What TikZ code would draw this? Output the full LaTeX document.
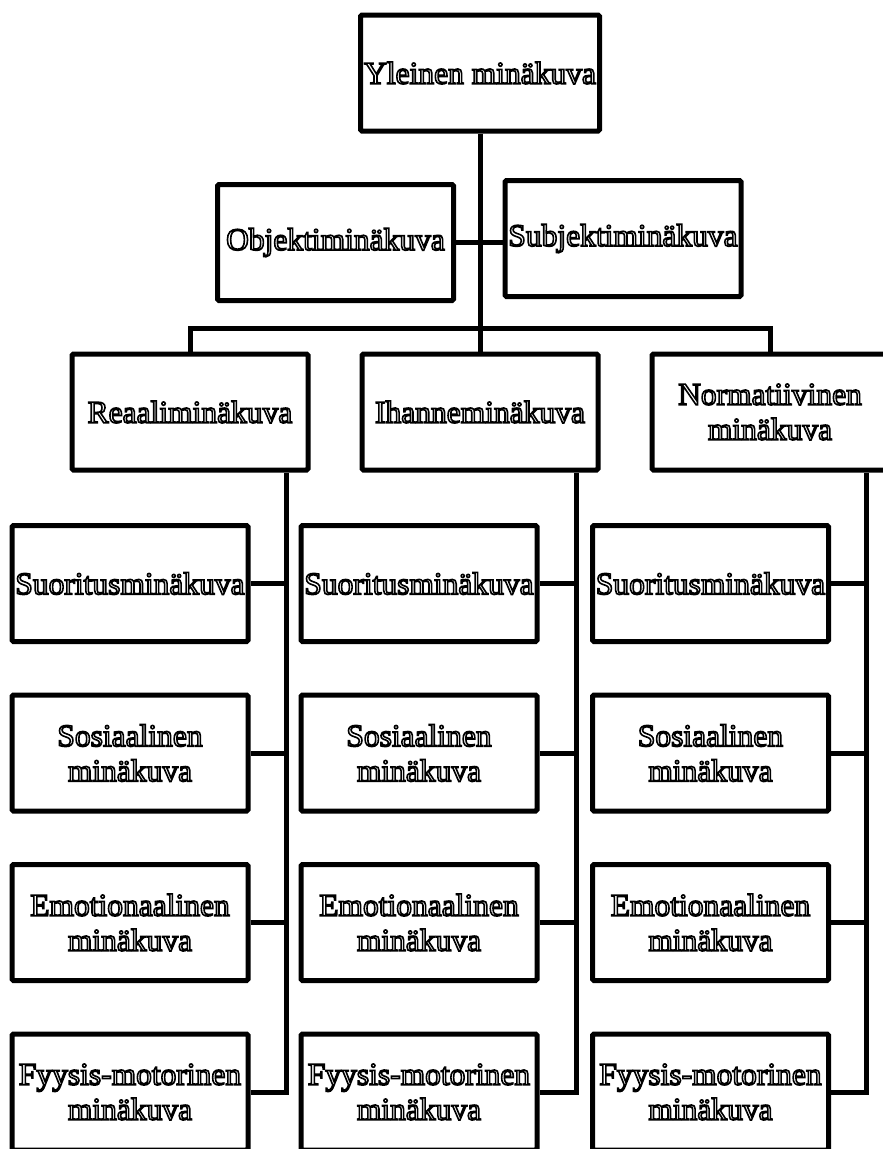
\documentclass[tikz,border=0pt]{standalone}
\usepackage{fontspec}
\setmainfont{Liberation Serif}
\tikzset{
  box/.style = {draw, rounded corners=1.5pt, align=center, inner sep=0pt,
    minimum width=236pt, minimum height=116pt,
    font=\fontsize{31.5}{35}\selectfont,
    execute at begin node={\special{pdf:literal direct 1 Tr 1.6 w}},
    execute at end node={\special{pdf:literal direct 0 Tr}}}
}

\begin{document}
\begin{tikzpicture}[x=1pt, y=-1pt, line width=5pt]
    \useasboundingbox (0,0) rectangle (883,1149);
    % top levels
    \node [box, minimum width=239pt] (yleinen) at (480,73) {Yleinen minäkuva};
    \node [box] (objekti) at (335.5,242.5) {Objektiminäkuva};
    \node [box] (subjekti) at (623,238.5) {Subjektiminäkuva};
    \node [box] (reaali) at (190,412) {Reaaliminäkuva};
    \node [box] (ihanne) at (480,412) {Ihanneminäkuva};
    \node [box] (norm) at (770,412) {Normatiivinen\\minäkuva};
    % leaves
    \node [box] (suoR) at (130,583.5) {Suoritusminäkuva};
    \node [box] (sosR) at (130,753) {Sosiaalinen\\minäkuva};
    \node [box] (emoR) at (130,922.5) {Emotionaalinen\\minäkuva};
    \node [box] (fyyR) at (130,1092) {Fyysis-motorinen\\minäkuva};
    \node [box] (suoI) at (419,583.5) {Suoritusminäkuva};
    \node [box] (sosI) at (419,753) {Sosiaalinen\\minäkuva};
    \node [box] (emoI) at (419,922.5) {Emotionaalinen\\minäkuva};
    \node [box] (fyyI) at (419,1092) {Fyysis-motorinen\\minäkuva};
    \node [box] (suoN) at (710.5,583.5) {Suoritusminäkuva};
    \node [box] (sosN) at (710.5,753) {Sosiaalinen\\minäkuva};
    \node [box] (emoN) at (710.5,922.5) {Emotionaalinen\\minäkuva};
    \node [box] (fyyN) at (710.5,1092) {Fyysis-motorinen\\minäkuva};
    \coordinate (bar) at (480,328);
    \coordinate (spineR) at ([xshift=-24pt]reaali.south east);
    \coordinate (spineI) at ([xshift=-24pt]ihanne.south east);
    \coordinate (spineN) at ([xshift=-24pt]norm.south east);
    % connectors
    \draw (yleinen.south) -- (ihanne.north);
    \draw (objekti.east) -- (objekti.east -| subjekti.west);
    \draw (reaali.north) |- (bar) -| (norm.north);
    \draw (spineR) |- (fyyR.east)
        (suoR.east) -- (suoR.east -| spineR)
        (sosR.east) -- (sosR.east -| spineR)
        (emoR.east) -- (emoR.east -| spineR);
    \draw (spineI) |- (fyyI.east)
        (suoI.east) -- (suoI.east -| spineI)
        (sosI.east) -- (sosI.east -| spineI)
        (emoI.east) -- (emoI.east -| spineI);
    \draw (spineN) |- (fyyN.east)
        (suoN.east) -- (suoN.east -| spineN)
        (sosN.east) -- (sosN.east -| spineN)
        (emoN.east) -- (emoN.east -| spineN);
\end{tikzpicture}
\end{document}
